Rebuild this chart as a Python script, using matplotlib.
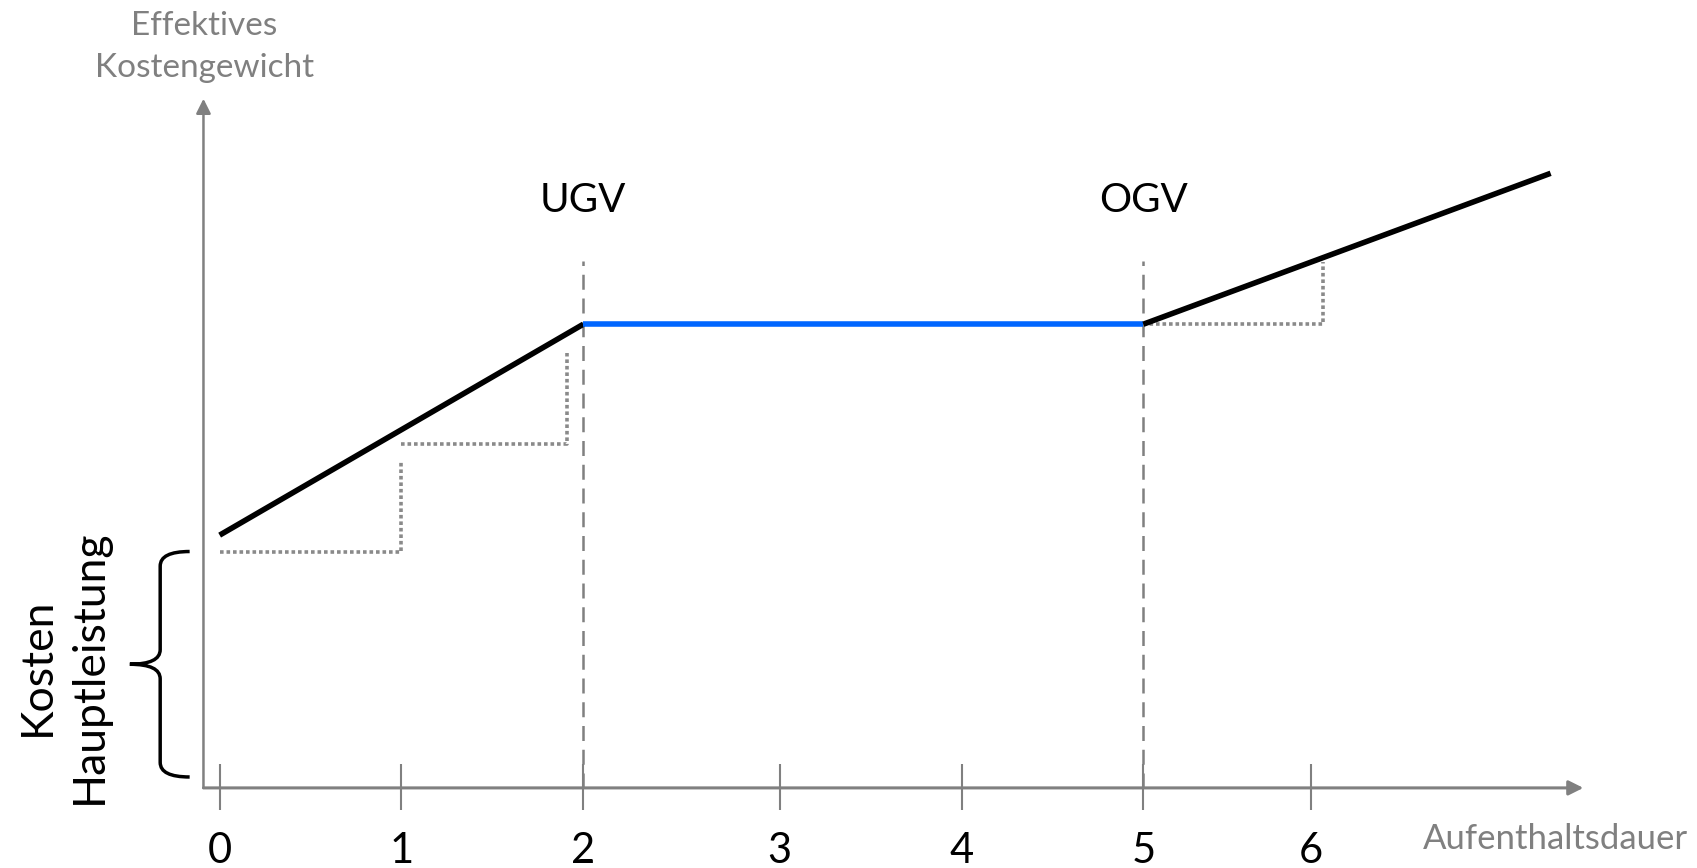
import matplotlib
matplotlib.use("Agg")
import matplotlib.pyplot as plt
from matplotlib.path import Path
from matplotlib.patches import PathPatch

# ---- data ----
tick_pos = [0, 1, 2, 3.08, 4.08, 5.08, 6.0]
tick_labels = ['0', '1', '2', '3', '4', '5', '6']
ugv_x = 2.0
ogv_x = 5.08
lower_x = [0.0, 2.0]
lower_y = [1.39, 2.55]
plateau_x = [2.0, 5.08]
plateau_y = [2.55, 2.55]
upper_x = [5.08, 7.32]
upper_y = [2.55, 3.38]
step1_x = [0.0, 1.0, 1.0]
step1_y = [1.30, 1.30, 1.80]
step2_x = [1.0, 1.91, 1.91]
step2_y = [1.89, 1.89, 2.39]
step3_x = [5.08, 6.07, 6.07]
step3_y = [2.55, 2.55, 2.89]
brace_y = [0.06, 1.30]
guide_top = 2.90

GRAY = '#808080'
FONT = ['Lato', 'DejaVu Sans']
plt.rcParams['font.family'] = FONT

fig = plt.figure(figsize=(16.97, 8.68), dpi=100)
ax = fig.add_axes([0, 0, 1, 1])
ax.set_xlim(-1.208, 8.125)
ax.set_ylim(-0.4405, 4.333)
ax.axis('off')

axis_x0 = -0.089
# axes with arrows
ax.annotate('', xy=(axis_x0, 3.79), xytext=(axis_x0, 0),
            arrowprops=dict(arrowstyle='-|>', color=GRAY, lw=1.8, mutation_scale=22,
                            shrinkA=0, shrinkB=0))
ax.annotate('', xy=(7.50, 0), xytext=(axis_x0, 0),
            arrowprops=dict(arrowstyle='-|>', color=GRAY, lw=2.2, mutation_scale=22,
                            shrinkA=0, shrinkB=0))

# ticks
ax.vlines(tick_pos, -0.12, 0.13, color=GRAY, lw=1.5)
for p, lab in zip(tick_pos, tick_labels):
    ax.text(p, -0.345, lab, ha='center', va='center', fontsize=30, color='black')

# guide dashed lines
ax.vlines([ugv_x, ogv_x], 0, guide_top, color=GRAY, lw=1.8, linestyles=(0, (6, 3.5)))

# dotted steps
for sx, sy in [(step1_x, step1_y), (step2_x, step2_y), (step3_x, step3_y)]:
    ax.plot(sx, sy, color='#8a8a8a', lw=2.6, linestyle=(0, (1, 0.8)),
            solid_capstyle='butt', dash_capstyle='butt')

# main lines
ax.plot(lower_x, lower_y, color='black', lw=4.0, solid_capstyle='butt')
ax.plot(plateau_x, plateau_y, color='#0066FF', lw=4.0, solid_capstyle='butt')
ax.plot(upper_x, upper_y, color='black', lw=4.0, solid_capstyle='butt')

# labels
ax.text(ugv_x, 3.23, 'UGV', ha='center', va='center', fontsize=29, color='black')
ax.text(ogv_x, 3.23, 'OGV', ha='center', va='center', fontsize=29, color='black')
ax.text(-0.083, 4.075, 'Effektives\nKostengewicht', ha='center', va='center',
        fontsize=24, color=GRAY, linespacing=1.5)
ax.text(7.345, -0.28, 'Aufenthaltsdauer', ha='center', va='center',
        fontsize=25, color=GRAY)
ax.text(-0.86, 0.667, 'Kosten\nHauptleistung', ha='center', va='center',
        rotation=90, fontsize=32, color='black', linespacing=1.35,
        multialignment='center')

# curly brace
y0, y1 = brace_y
ym = (y0 + y1) / 2
xe, xv, xt = -0.165, -0.327, -0.494
c = 0.08
verts = [
    (xe, y1), (xv, y1), (xv, y1 - c), (xv, y1 - c),
    (xv, ym + c), (xv, ym), (xt, ym),
    (xv, ym), (xv, ym - c), (xv, ym - c),
    (xv, y0 + c), (xv, y0), (xe, y0),
]
codes = [Path.MOVETO, Path.CURVE3, Path.CURVE3, Path.LINETO,
         Path.LINETO, Path.CURVE3, Path.CURVE3,
         Path.CURVE3, Path.CURVE3, Path.LINETO,
         Path.LINETO, Path.CURVE3, Path.CURVE3]
ax.add_patch(PathPatch(Path(verts, codes), fill=False, lw=2.5, edgecolor='black'))

fig.savefig('out.png', dpi=100)
